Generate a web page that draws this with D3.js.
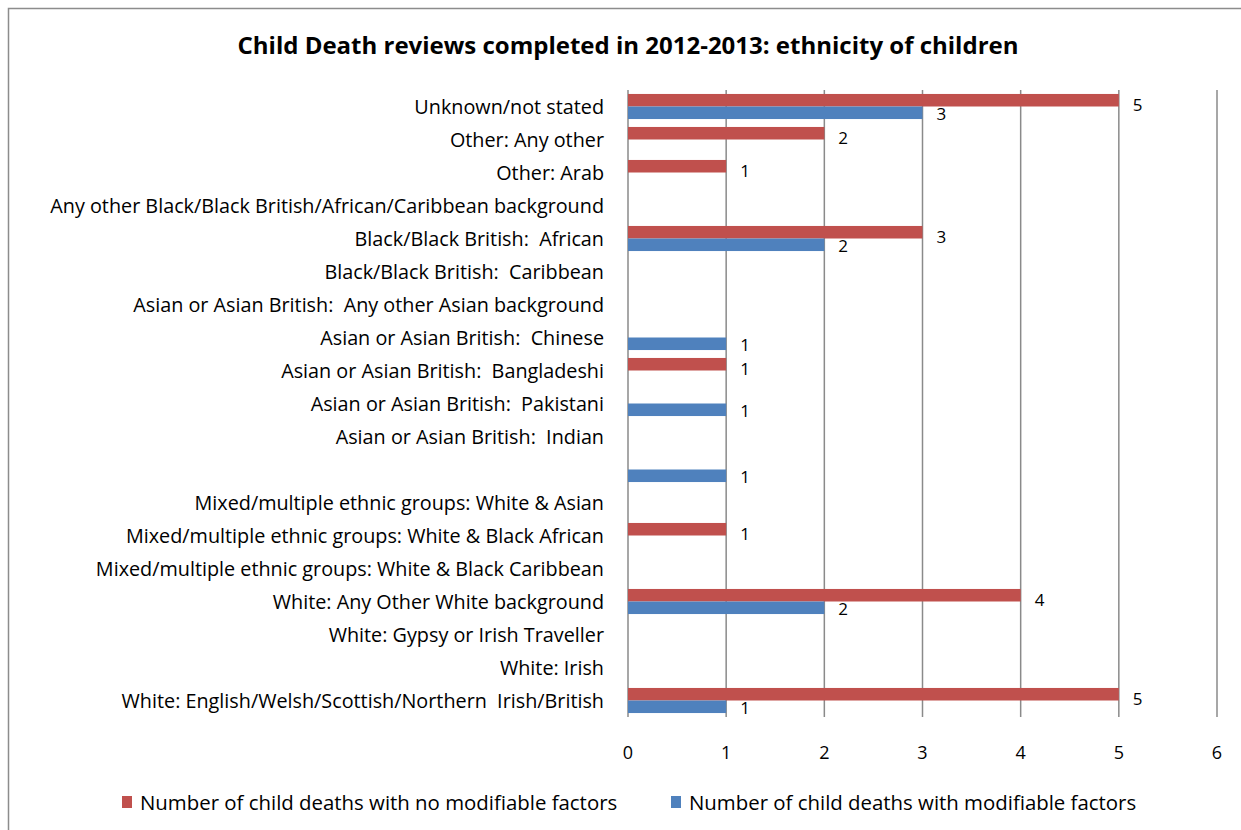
<!DOCTYPE html>
<html>
<head>
<meta charset="utf-8">
<script src="https://cdn.jsdelivr.net/npm/d3@7"></script>
<style>
  html, body { margin: 0; padding: 0; background: #fff; }
  svg { display: block; }
  text { font-family: "Open Sans", Lato, "Liberation Sans", sans-serif; fill: #000; }
</style>
</head>
<body>
<svg id="chart" width="1241" height="830"></svg>
<script>
// Ethnicity categories, listed from the bottom row of the chart upwards
const categories = [
  "White: English/Welsh/Scottish/Northern  Irish/British",
  "White: Irish",
  "White: Gypsy or Irish Traveller",
  "White: Any Other White background",
  "Mixed/multiple ethnic groups: White & Black Caribbean",
  "Mixed/multiple ethnic groups: White & Black African",
  "Mixed/multiple ethnic groups: White & Asian",
  "",
  "Asian or Asian British:  Indian",
  "Asian or Asian British:  Pakistani",
  "Asian or Asian British:  Bangladeshi",
  "Asian or Asian British:  Chinese",
  "Asian or Asian British:  Any other Asian background",
  "Black/Black British:  Caribbean",
  "Black/Black British:  African",
  "Any other Black/Black British/African/Caribbean background",
  "Other: Arab",
  "Other: Any other",
  "Unknown/not stated"
];

// Child deaths with no modifiable factors (null = no bar)
const noModifiable = [5, null, null, 4, null, 1, null, null, null, null, 1, null, null, null, 3, null, 1, 2, 5];
// Child deaths with modifiable factors (null = no bar)
const withModifiable = [1, null, null, 2, null, null, null, 1, null, 1, null, 1, null, null, 2, null, null, null, 3];

const xTicks = [0, 1, 2, 3, 4, 5, 6];

const seriesNames = [
  "Number of child deaths with no modifiable factors",
  "Number of child deaths with modifiable factors"
];
const seriesColors = ["#C0504D", "#4F81BD"];

const titleText = "Child Death reviews completed in 2012-2013: ethnicity of children";

const svg = d3.select("#chart");

// Outer chart frame
svg.append("rect")
  .attr("x", 8.5).attr("y", 8.5)
  .attr("width", 1300).attr("height", 900)
  .attr("fill", "none")
  .attr("stroke", "#8c8c8c")
  .attr("stroke-width", 1.5);

const plot = { left: 628, right: 1217, top: 90, bottom: 717 };

const x = d3.scaleLinear().domain([0, 6]).range([plot.left, plot.right]);

// Top row is the last category
const y = d3.scaleBand()
  .domain(d3.range(categories.length).reverse())
  .range([plot.top, plot.bottom])
  .paddingInner(0.24)
  .paddingOuter(0.12);

const sub = d3.scaleBand().domain([0, 1]).range([0, y.bandwidth()]);

// Vertical gridlines
svg.append("g")
  .selectAll("line")
  .data(xTicks)
  .join("line")
  .attr("x1", d => x(d)).attr("x2", d => x(d))
  .attr("y1", plot.top).attr("y2", plot.bottom)
  .attr("stroke", "#8a8a8a")
  .attr("stroke-width", 1.5);

// X tick labels
svg.append("g")
  .selectAll("text")
  .data(xTicks)
  .join("text")
  .attr("x", d => x(d))
  .attr("y", 752)
  .attr("text-anchor", "middle")
  .attr("dominant-baseline", "central")
  .attr("font-size", 18)
  .text(d => d);

// Category labels
svg.append("g")
  .selectAll("text")
  .data(categories)
  .join("text")
  .attr("x", 604)
  .attr("y", (d, i) => y(i) + y.bandwidth() / 2)
  .attr("text-anchor", "end")
  .attr("dominant-baseline", "central")
  .attr("font-size", 19.8)
  .attr("xml:space", "preserve")
  .style("white-space", "pre")
  .text(d => d);

// Bars and value labels
const seriesValues = [noModifiable, withModifiable];
const labelShift = [4, 1];
seriesValues.forEach((vals, s) => {
  const rows = vals.map((v, i) => ({ v, i })).filter(d => d.v != null && d.v > 0);
  const g = svg.append("g");
  g.selectAll("rect")
    .data(rows)
    .join("rect")
    .attr("x", x(0))
    .attr("y", d => y(d.i) + sub(s))
    .attr("width", d => x(d.v) - x(0))
    .attr("height", sub.bandwidth())
    .attr("fill", seriesColors[s]);
  g.selectAll("text")
    .data(rows)
    .join("text")
    .attr("x", d => x(d.v) + 14)
    .attr("y", d => y(d.i) + sub(s) + sub.bandwidth() / 2 + labelShift[s])
    .attr("dominant-baseline", "central")
    .attr("font-size", 17)
    .text(d => d.v);
});

// Title
svg.append("text")
  .attr("x", 628)
  .attr("y", 44)
  .attr("text-anchor", "middle")
  .attr("dominant-baseline", "central")
  .attr("font-size", 24)
  .attr("font-weight", "bold")
  .text(titleText);

// Legend
const legendItems = [
  { name: seriesNames[0], color: seriesColors[0], x: 122 },
  { name: seriesNames[1], color: seriesColors[1], x: 671 }
];
const lg = svg.append("g");
lg.selectAll("rect")
  .data(legendItems)
  .join("rect")
  .attr("x", d => d.x)
  .attr("y", 796)
  .attr("width", 10).attr("height", 12)
  .attr("fill", d => d.color);
lg.selectAll("text")
  .data(legendItems)
  .join("text")
  .attr("x", d => d.x + 18)
  .attr("y", 802)
  .attr("dominant-baseline", "central")
  .attr("font-size", 20.4)
  .text(d => d.name);
</script>
</body>
</html>
